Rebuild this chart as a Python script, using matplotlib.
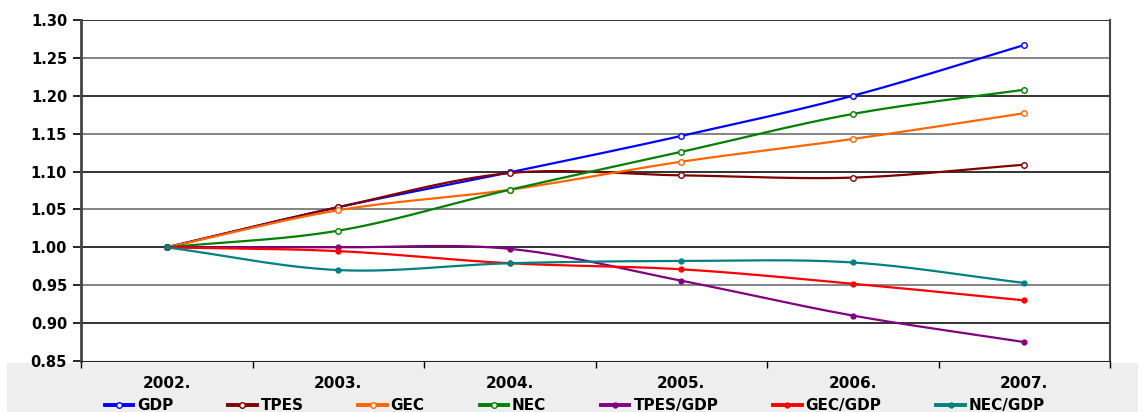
import numpy as np
import matplotlib.pyplot as plt
from matplotlib.patches import Rectangle

years = ['2002.', '2003.', '2004.', '2005.', '2006.', '2007.']

gdp = [1.000, 1.053, 1.099, 1.147, 1.200, 1.267]
tpes = [1.000, 1.053, 1.098, 1.095, 1.092, 1.109]
gec = [1.000, 1.049, 1.076, 1.113, 1.143, 1.177]
nec = [1.000, 1.022, 1.076, 1.126, 1.176, 1.208]
tpes_gdp = [1.000, 1.000, 0.998, 0.956, 0.910, 0.875]
gec_gdp = [1.000, 0.995, 0.979, 0.971, 0.952, 0.930]
nec_gdp = [1.000, 0.970, 0.979, 0.982, 0.980, 0.953]

series = [
    ('GDP', gdp, '#0000ff', True),
    ('TPES', tpes, '#800000', True),
    ('GEC', gec, '#ff6600', True),
    ('NEC', nec, '#008000', True),
    ('TPES/GDP', tpes_gdp, '#800080', False),
    ('GEC/GDP', gec_gdp, '#ff0000', False),
    ('NEC/GDP', nec_gdp, '#008080', False),
]


def smooth(y, n=30):
    # Catmull-Rom through the points, like Excel's smoothed lines
    x = np.arange(len(y), dtype=float)
    y = np.asarray(y, dtype=float)
    px = np.concatenate([[2 * x[0] - x[1]], x, [2 * x[-1] - x[-2]]])
    py = np.concatenate([[2 * y[0] - y[1]], y, [2 * y[-1] - y[-2]]])
    xs, ys = [], []
    t = np.linspace(0, 1, n)
    for i in range(1, len(px) - 2):
        for arr, out in ((px, xs), (py, ys)):
            p0, p1, p2, p3 = arr[i - 1], arr[i], arr[i + 1], arr[i + 2]
            out.extend(0.5 * ((2 * p1) + (-p0 + p2) * t
                              + (2 * p0 - 5 * p1 + 4 * p2 - p3) * t ** 2
                              + (-p0 + 3 * p1 - 3 * p2 + p3) * t ** 3))
    return np.array(xs), np.array(ys)


plt.rcParams['font.family'] = ['DejaVu Sans']
fig = plt.figure(figsize=(11.45, 4.12), dpi=100)
fig.patches.append(Rectangle((0.006, 0), 0.988, 1 - 363 / 412, transform=fig.transFigure,
                             facecolor='#eeeeee', edgecolor='none', zorder=-5))
ax = fig.add_axes([81 / 1145, 1 - 361 / 412, (1110 - 81) / 1145, (361 - 20) / 412])

x = np.arange(len(years))
handles = []
for name, vals, col, hollow in series:
    sx, sy = smooth(vals)
    ax.plot(sx, sy, color=col, lw=1.6, zorder=3)
    if hollow:
        ax.plot(x, vals, 'o', ms=4, mfc='white', mec=col, mew=1, zorder=4)
        h, = ax.plot([], [], '-o', color=col, lw=2.8, ms=4, mfc='white', mec=col)
    else:
        ax.plot(x, vals, 'o', ms=3.5, color=col, zorder=4)
        h, = ax.plot([], [], '-o', color=col, lw=2.8, ms=3.5)
    handles.append(h)

ax.set_xlim(-0.5, 5.5)
ax.set_ylim(0.85, 1.30)
yt = np.arange(0.85, 1.301, 0.05)
ax.set_yticks(yt)
ax.set_yticklabels([f'{v:.2f}' for v in yt], fontweight='bold', fontsize=10.5)
# horizontal grid, every other line looks lighter in the original
for i, v in enumerate(yt[1:]):
    ax.axhline(v, color='#7a7a7a' if i % 2 else '#222222', lw=1.3, zorder=1)

ax.set_xticks(np.arange(-0.5, 5.6, 1))
ax.set_xticklabels([])
ax.set_xticks(x, minor=True)
ax.set_xticklabels(years, minor=True, fontweight='bold', fontsize=11)
ax.tick_params(axis='x', which='minor', length=0, pad=11)
ax.tick_params(axis='x', which='major', length=5, width=1)
ax.tick_params(axis='y', length=6, width=1.2, pad=4)

ax.spines['top'].set_visible(False)
ax.spines['left'].set_color('#444444')
ax.spines['left'].set_linewidth(2)
ax.spines['right'].set_color('#444444')
ax.spines['right'].set_linewidth(1.5)
ax.spines['bottom'].set_color('#222222')

fig.legend(handles, [s[0] for s in series], loc='lower center', ncol=7,
           bbox_to_anchor=(0.502, -0.037), frameon=False, handlelength=1.85,
           handletextpad=0.26, columnspacing=3.6,
           prop={'weight': 'bold', 'size': 11})

fig.savefig('out.png', dpi=100)
